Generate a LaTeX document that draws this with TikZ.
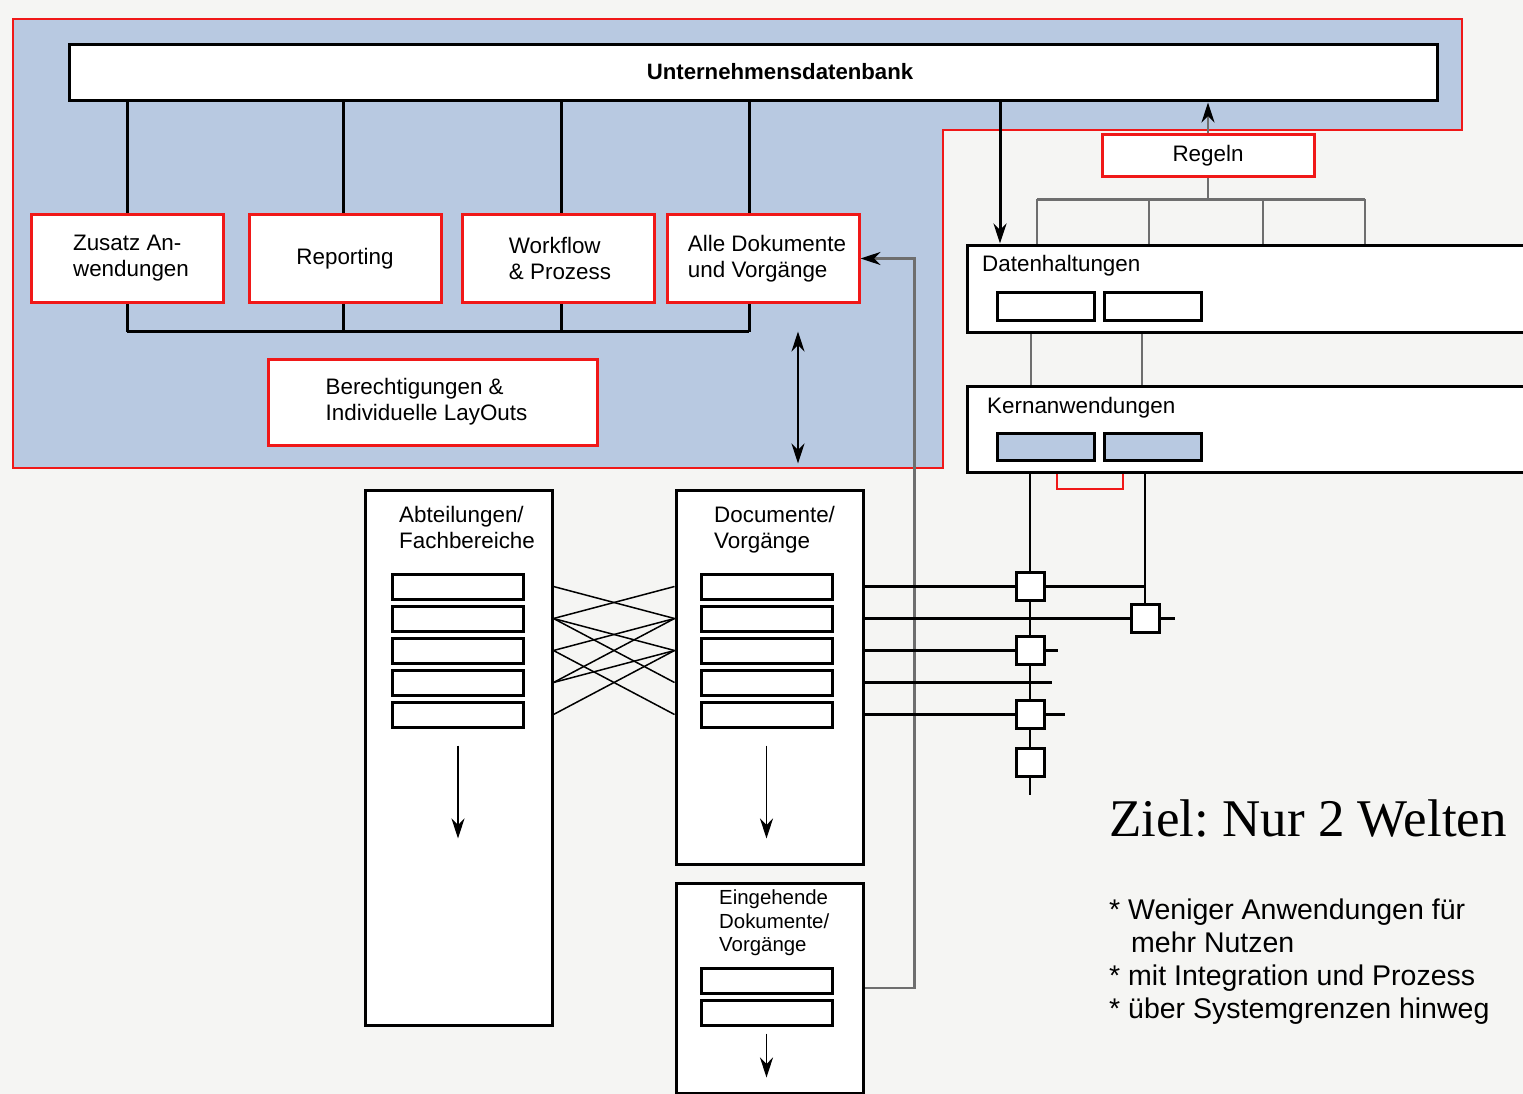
\documentclass[tikz,border=0pt]{standalone}
\usepackage{fontspec}
\setmainfont{Liberation Sans}
\newfontfamily\serifziel{Liberation Serif}
\usetikzlibrary{arrows,arrows.meta,positioning}
\definecolor{paper}{HTML}{F5F5F3}
\definecolor{zoneblue}{HTML}{B8C9E1}
\definecolor{zonered}{HTML}{F01818}
\definecolor{wiregray}{HTML}{6E6E6E}
\pgfdeclarelayer{back}
\pgfdeclarelayer{wires}
\pgfsetlayers{back,wires,main}
\frenchspacing
\begin{document}
\begin{tikzpicture}[x=1pt, y=-1pt,
 txt/.style={font=\fontsize{22.4}{26}\selectfont},
 box/.style={draw, line width=3, fill=white, inner sep=0},
 rbox/.style={box, draw=zonered, align=left, txt, minimum width=192, minimum height=87},
 bar/.style={box, minimum width=131, minimum height=25},
 sq/.style={box, minimum size=28},
 conn/.style={line width=3},
 wire/.style={draw=wiregray, line width=2.5},
 tip/.style={-{Stealth[length=20pt,width=13pt,black]}}]
\useasboundingbox (0,0) rectangle (1523,1094);
\begin{pgfonlayer}{back}
\fill[paper] (0,0) rectangle (1523,1094);
\filldraw[fill=zoneblue, draw=zonered, line width=1.5] (13,19) -- (1462,19) -- (1462,130) -- (943,130) -- (943,468) -- (13,468) -- cycle;
\end{pgfonlayer}
\node[box, minimum width=1368, minimum height=56] (udb) at (753,73) {};
\node[font=\fontsize{22.2}{26}\selectfont\bfseries] (udbtxt) at (780,72) {Unternehmensdatenbank};
\node[rbox] (zus) at (127,258.5) {\hspace*{8pt}Zusatz An-\\\hspace*{8pt}wendungen};
\node[rbox] (rep) at (345,258.5) {Reporting};
\node[rbox] (wf) at (558,258.5) {\hspace*{4pt}Workflow\\\hspace*{4pt}\& Prozess};
\node[rbox] (alle) at (763,258.5) {\hspace*{8pt}Alle Dokumente\\\hspace*{8pt}und Vorgänge};
\node[rbox, minimum width=329, minimum height=86] (ber) at (432.5,402) {Berechtigungen \&\\Individuelle LayOuts\hspace*{12pt}};
\node[rbox, minimum width=212, minimum height=42, align=center] (reg) at (1208,156) {Regeln};
\node[box, minimum width=573, minimum height=87] (dh) at (1253.5,288.5) {};
\node[txt, anchor=west, inner sep=0] (dhtxt) at (982,266) {Datenhaltungen};
\node[bar, minimum width=97, minimum height=28] (dh1) at (1045.5,306) {};
\node[bar, minimum width=97, minimum height=28] (dh2) at (1153,306) {};
\node[box, minimum width=573, minimum height=86] (kern) at (1253.5,429) {};
\node[txt, anchor=west, inner sep=0] (kerntxt) at (987,408) {Kernanwendungen};
\node[bar, fill=zoneblue, minimum width=97, minimum height=27] (k1) at (1045.5,446.5) {};
\node[bar, fill=zoneblue, minimum width=97, minimum height=27] (k2) at (1153,446.5) {};
\node[box, minimum width=187, minimum height=535] (abt) at (458.5,757.5) {};
\node[box, minimum width=187, minimum height=374] (doc) at (769.5,677) {};
\node[box, minimum width=187, minimum height=210] (ein) at (769.5,988) {};
\node[txt, anchor=north west, align=left, inner sep=0] (abttxt) at (399,506.5) {Abteilungen/\\Fachbereiche};
\node[txt, anchor=north west, align=left, inner sep=0] (doctxt) at (714,506.5) {Documente/\\Vorgänge};
\node[font=\fontsize{20.4}{23.5}\selectfont, anchor=north west, align=left, inner sep=0] (eintxt) at (719,890) {Eingehende\\Dokumente/\\Vorgänge};
\foreach \i in {1,...,5}{
 \node[bar] (a\i) at (458,{554.5+32*\i}) {};
 \node[bar] (d\i) at (766.5,{554.5+32*\i}) {};
}
\foreach \i in {1,2} \node[bar] (e\i) at (766.5,{948.5+32*\i}) {};
\node[sq] (sq1) at (1030,0 |- d1) {};
\node[sq] (sq2) at (1145,0 |- d2) {};
\node[sq] (sq3) at (1030,0 |- d3) {};
\node[sq] (sq4) at (1030,0 |- d5) {};
\node[sq] (sq5) at (1030,762) {};
\foreach \n in {a5,d5} \draw[line width=1.5, tip] (\n.south) ++(0,17) -- ++(0,93);
\draw[line width=1.5, tip] (e2.south) ++(0,7) -- ++(0,44);
\node[font=\serifziel\fontsize{53}{60}\selectfont, anchor=base west, inner sep=0] (ziel) at (1109,836) {Ziel: Nur 2 Welten};
\node[font=\fontsize{28.5}{32.8}\selectfont, anchor=north west, align=left, inner sep=0] (goals) at (1109,899) {* Weniger Anwendungen für\\\hspace*{22pt}mehr Nutzen\\* mit Integration und Prozess\\* über Systemgrenzen hinweg};
\begin{pgfonlayer}{wires}
\foreach \n/\dx in {zus/0, rep/-2, wf/3, alle/-14}{
 \draw[conn] ([xshift=\dx]\n.north) -- ([xshift=\dx]\n.north |- udb.south);
 \draw[conn] ([xshift=\dx]\n.south) -- ++(0,28);
}
\draw[conn] ([yshift=-28]zus.south) -- ([xshift=-14,yshift=-28]alle.south);
\draw[line width=2, {Stealth[length=20pt,width=13pt]}-{Stealth[length=20pt,width=13pt]}] ([xshift=35,yshift=-28]alle.south) -- ([xshift=28.5,yshift=25]doc.north);
\draw[wire, tip] (ein.east) -- ++(50,0) |- (alle.east);
\draw[wire, tip] (reg.north) -- (reg.north |- udb.south);
\draw[wire] (reg.south) -- ++(0,21) coordinate (rt);
\draw[wire] (1037,0 |- rt) -- (1365,0 |- rt);
\foreach \x in {1037,1149,1263,1365} \draw[wire] (\x,0 |- rt) -- (\x,0 |- dh.north);
\draw[conn, tip] (1000,0 |- udb.south) -- (1000,0 |- dh.north);
\foreach \x in {1031,1142} \draw[wire, line width=2] (\x,0 |- dh.south) -- (\x,0 |- kern.north);
\draw[zonered, line width=2] (1057,0 |- kern.south) -- ++(0,15) -| (1123,0 |- kern.south);
\foreach \l/\r in {1/2,2/1,2/3,2/4,3/2,3/5,4/2,4/3,5/3} \draw[line width=1.5] (abt.east |- a\l) -- (doc.west |- d\r);
\foreach \i/\x in {1/1145,2/1175,3/1058,4/1052,5/1065} \draw[line width=2.2] (doc.east |- d\i) -- (\x,0 |- d\i);
\draw[line width=2.5] (k1.south -| sq1) -- ([yshift=-17]sq5.south);
\draw[line width=2.5] (k2.south -| sq2) -- (sq2);
\end{pgfonlayer}
\end{tikzpicture}
\end{document}
